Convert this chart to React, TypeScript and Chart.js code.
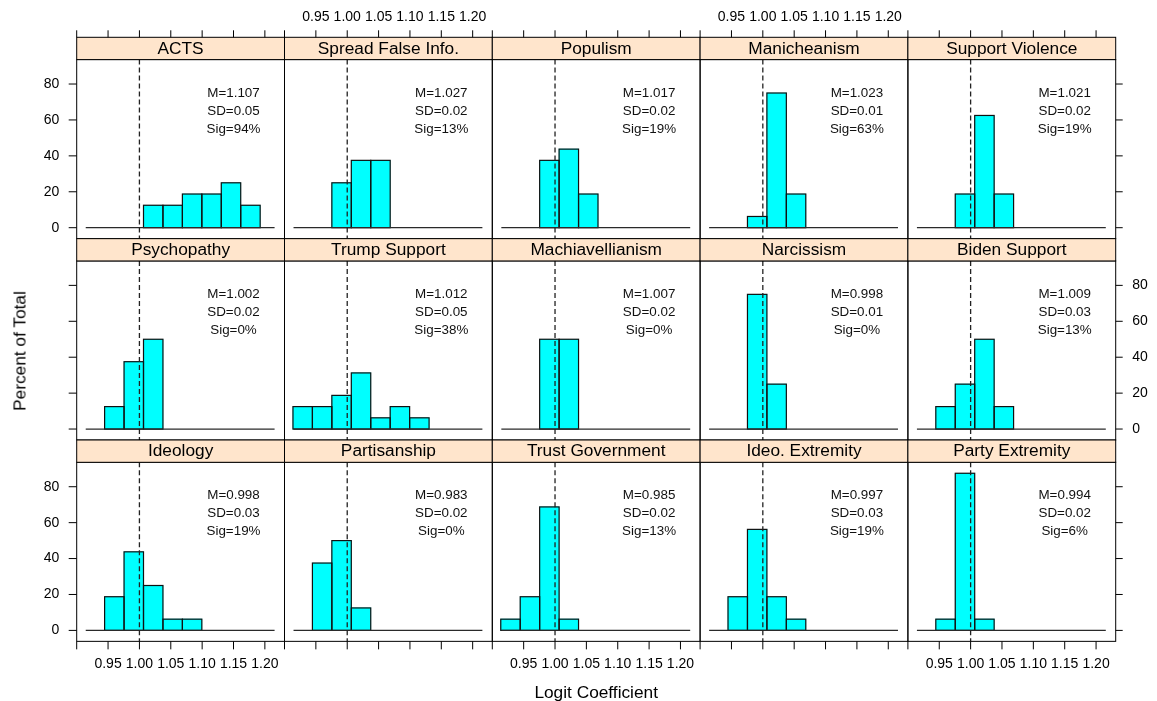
import React, { useEffect, useRef } from "react";
import { Chart, registerables } from "chart.js";

Chart.register(...registerables);

// ---- data -------------------------------------------------------------
const PANEL_TITLES = [
  "ACTS", "Spread False Info.", "Populism", "Manicheanism", "Support Violence",
  "Psychopathy", "Trump Support", "Machiavellianism", "Narcissism", "Biden Support",
  "Ideology", "Partisanship", "Trust Government", "Ideo. Extremity", "Party Extremity",
];

// histogram bin midpoints (logit coefficient)
const BIN_MIDS = [0.929, 0.960, 0.991, 1.022, 1.053, 1.084, 1.115, 1.146, 1.177, 1.208];

// percent of total per bin
const PCT_ACTS = [0, 0, 0, 12.5, 12.5, 18.75, 18.75, 25, 12.5, 0];
const PCT_SPREAD = [0, 0, 25, 37.5, 37.5, 0, 0, 0, 0, 0];
const PCT_POPULISM = [0, 0, 37.5, 43.75, 18.75, 0, 0, 0, 0, 0];
const PCT_MANICHEANISM = [0, 0, 6.25, 75, 18.75, 0, 0, 0, 0, 0];
const PCT_VIOLENCE = [0, 0, 18.75, 62.5, 18.75, 0, 0, 0, 0, 0];
const PCT_PSYCHOPATHY = [0, 12.5, 37.5, 50, 0, 0, 0, 0, 0, 0];
const PCT_TRUMP = [12.5, 12.5, 18.75, 31.25, 6.25, 12.5, 6.25, 0, 0, 0];
const PCT_MACHIAVELLIANISM = [0, 0, 50, 50, 0, 0, 0, 0, 0, 0];
const PCT_NARCISSISM = [0, 0, 75, 25, 0, 0, 0, 0, 0, 0];
const PCT_BIDEN = [0, 12.5, 25, 50, 12.5, 0, 0, 0, 0, 0];
const PCT_IDEOLOGY = [0, 18.75, 43.75, 25, 6.25, 6.25, 0, 0, 0, 0];
const PCT_PARTISANSHIP = [0, 37.5, 50, 12.5, 0, 0, 0, 0, 0, 0];
const PCT_TRUST = [6.25, 18.75, 68.75, 6.25, 0, 0, 0, 0, 0, 0];
const PCT_IDEO_EXT = [0, 18.75, 56.25, 18.75, 6.25, 0, 0, 0, 0, 0];
const PCT_PARTY_EXT = [0, 6.25, 87.5, 6.25, 0, 0, 0, 0, 0, 0];

const PANEL_PCTS = [
  PCT_ACTS, PCT_SPREAD, PCT_POPULISM, PCT_MANICHEANISM, PCT_VIOLENCE,
  PCT_PSYCHOPATHY, PCT_TRUMP, PCT_MACHIAVELLIANISM, PCT_NARCISSISM, PCT_BIDEN,
  PCT_IDEOLOGY, PCT_PARTISANSHIP, PCT_TRUST, PCT_IDEO_EXT, PCT_PARTY_EXT,
];

const MEANS = ["1.107", "1.027", "1.017", "1.023", "1.021", "1.002", "1.012", "1.007", "0.998", "1.009", "0.998", "0.983", "0.985", "0.997", "0.994"];
const SDS = ["0.05", "0.02", "0.02", "0.01", "0.02", "0.02", "0.05", "0.02", "0.01", "0.03", "0.03", "0.02", "0.02", "0.03", "0.02"];
const SIGS = ["94%", "13%", "19%", "63%", "19%", "0%", "38%", "0%", "0%", "13%", "19%", "0%", "13%", "19%", "6%"];

const X_TICKS = [0.9, 0.95, 1.0, 1.05, 1.1, 1.15, 1.2];
const X_TICK_LABELS = ["", "0.95", "1.00", "1.05", "1.10", "1.15", "1.20"];
const Y_TICKS = [0, 20, 40, 60, 80];
const Y_TICK_LABELS = ["0", "20", "40", "60", "80"];
const X_RANGE = [0.9, 1.2313];
const Y_RANGE = [-6.1, 93.6];
const REF_X = 1.0;
const BASELINE_X = [0.9144, 1.2155];
const STAT_X = 1.15;
const STAT_Y = [75, 65, 55];

// ---- layout ----------------------------------------------------------
const NCOL = 5;
const GRID_LEFT = 76.7;
const PANEL_W = 207.8;
const GRID_TOP = 37.3;
const ROW_H = 201.35;
const STRIP_H = 22.3;
const MARGIN = 60;

const FONT = '"Liberation Sans", Arial, Helvetica, sans-serif';

function geometry(r: number, c: number) {
  const stripTop = GRID_TOP + r * ROW_H;
  const panelLeft = GRID_LEFT + c * PANEL_W;
  const left = Math.floor(panelLeft - MARGIN);
  const top = Math.floor(stripTop - MARGIN);
  const w = Math.ceil(panelLeft + PANEL_W + MARGIN) - left;
  const h = Math.ceil(stripTop + ROW_H + MARGIN) - top;
  const padLeft = panelLeft - left;
  const padTop = stripTop + STRIP_H - top;
  const padRight = w - padLeft - PANEL_W;
  const padBottom = h - padTop - (ROW_H - STRIP_H);
  return { left, top, w, h, padLeft, padTop, padRight, padBottom };
}

// bar outlines, strip, border, reference line, stats and outer axes of one panel
const latticePanel = {
  id: "latticePanel",
  afterDatasetsDraw(chart: any, _args: any, opts: any) {
    const { ctx, chartArea: a } = chart;
    const x = chart.scales.x;
    const y = chart.scales.y;
    ctx.save();

    // outline each non-empty bar once, so shared edges stay single
    const meta = chart.getDatasetMeta(0);
    const values = chart.data.datasets[0].data;
    ctx.strokeStyle = "#111";
    ctx.lineWidth = 1.2;
    meta.data.forEach((bar: any, k: number) => {
      if (!values[k] || values[k].y <= 0) return;
      const { x: cx, y: top, base, width } = bar.getProps(["x", "y", "base", "width"], true);
      ctx.strokeRect(cx - width / 2, top, width, base - top);
    });

    // zero line under the histogram
    const y0 = y.getPixelForValue(0);
    ctx.strokeStyle = "#2a2a2a";
    ctx.lineWidth = 1.3;
    ctx.beginPath();
    ctx.moveTo(x.getPixelForValue(BASELINE_X[0]), y0);
    ctx.lineTo(x.getPixelForValue(BASELINE_X[1]), y0);
    ctx.stroke();

    // dashed reference at 1.0
    const rx = x.getPixelForValue(REF_X);
    ctx.setLineDash([5, 3]);
    ctx.lineWidth = 1.3;
    ctx.strokeStyle = "#222";
    ctx.beginPath();
    ctx.moveTo(rx, a.top);
    ctx.lineTo(rx, a.bottom);
    ctx.stroke();
    ctx.setLineDash([]);

    // summary text
    ctx.fillStyle = "#111";
    ctx.font = `13.4px ${FONT}`;
    ctx.textAlign = "center";
    ctx.textBaseline = "middle";
    const sx = x.getPixelForValue(STAT_X);
    opts.stats.forEach((s: string, k: number) => {
      ctx.fillText(s, sx, y.getPixelForValue(STAT_Y[k]));
    });

    // panel border
    ctx.strokeStyle = "#000";
    ctx.lineWidth = 1;
    ctx.strokeRect(a.left, a.top, a.right - a.left, a.bottom - a.top);

    // strip
    const stripTop = a.top - STRIP_H;
    ctx.fillStyle = "#FFE5CC";
    ctx.fillRect(a.left, stripTop, a.right - a.left, STRIP_H);
    ctx.strokeRect(a.left, stripTop, a.right - a.left, STRIP_H);
    ctx.fillStyle = "#000";
    ctx.font = `17.3px ${FONT}`;
    ctx.fillText(opts.title, (a.left + a.right) / 2, stripTop + STRIP_H / 2 + 0.5);

    // axes
    ctx.font = `14px ${FONT}`;
    ctx.lineWidth = 1;
    ctx.strokeStyle = "#000";
    ctx.fillStyle = "#000";
    if (opts.top) {
      X_TICKS.forEach((v, k) => {
        const px = x.getPixelForValue(v);
        ctx.beginPath();
        ctx.moveTo(px, stripTop - 7);
        ctx.lineTo(px, stripTop);
        ctx.stroke();
        if (opts.topLabels) ctx.fillText(X_TICK_LABELS[k], px, stripTop - 20.5);
      });
    }
    if (opts.bottom) {
      X_TICKS.forEach((v, k) => {
        const px = x.getPixelForValue(v);
        ctx.beginPath();
        ctx.moveTo(px, a.bottom);
        ctx.lineTo(px, a.bottom + 8);
        ctx.stroke();
        if (opts.bottomLabels) ctx.fillText(X_TICK_LABELS[k], px, a.bottom + 22.3);
      });
    }
    if (opts.left) {
      ctx.textAlign = "right";
      Y_TICKS.forEach((v, k) => {
        const py = y.getPixelForValue(v);
        ctx.beginPath();
        ctx.moveTo(a.left - 8, py);
        ctx.lineTo(a.left, py);
        ctx.stroke();
        if (opts.leftLabels) ctx.fillText(Y_TICK_LABELS[k], a.left - 17.4, py);
      });
    }
    if (opts.right) {
      ctx.textAlign = "left";
      Y_TICKS.forEach((v, k) => {
        const py = y.getPixelForValue(v);
        ctx.beginPath();
        ctx.moveTo(a.right, py);
        ctx.lineTo(a.right + 7, py);
        ctx.stroke();
        if (opts.rightLabels) ctx.fillText(Y_TICK_LABELS[k], a.right + 16.6, py);
      });
    }
    ctx.restore();
  },
};

function Panel({ index }: { index: number }) {
  const ref = useRef<HTMLCanvasElement | null>(null);
  const r = Math.floor(index / NCOL);
  const c = index % NCOL;
  const g = geometry(r, c);

  useEffect(() => {
    const pcts = PANEL_PCTS[index];
    const chart = new Chart(ref.current as HTMLCanvasElement, {
      type: "bar",
      data: {
        datasets: [
          {
            data: BIN_MIDS.map((m, k) => ({ x: m, y: pcts[k] })),
            backgroundColor: (ctx: any) => (ctx.raw && ctx.raw.y > 0 ? "#00FFFF" : "rgba(0,0,0,0)"),
            borderWidth: 0,
            barPercentage: 1,
            categoryPercentage: 1,
          } as any,
        ],
      },
      options: {
        responsive: false,
        animation: false,
        devicePixelRatio: 1,
        events: [],
        layout: {
          padding: { left: g.padLeft, right: g.padRight, top: g.padTop, bottom: g.padBottom },
        },
        plugins: {
          legend: { display: false },
          tooltip: { enabled: false },
          latticePanel: {
            title: PANEL_TITLES[index],
            stats: [`M=${MEANS[index]}`, `SD=${SDS[index]}`, `Sig=${SIGS[index]}`],
            top: r === 0,
            topLabels: r === 0 && c % 2 === 1,
            bottom: r === 2,
            bottomLabels: r === 2 && c % 2 === 0,
            left: c === 0,
            leftLabels: c === 0 && r !== 1,
            right: c === NCOL - 1,
            rightLabels: c === NCOL - 1 && r === 1,
          },
        } as any,
        scales: {
          x: {
            type: "linear",
            display: false,
            offset: false,
            min: X_RANGE[0],
            max: X_RANGE[1],
            afterBuildTicks: (s: any) => {
              s.ticks = X_TICKS.map((v) => ({ value: v }));
            },
          },
          y: {
            type: "linear",
            display: false,
            beginAtZero: false,
            min: Y_RANGE[0],
            max: Y_RANGE[1],
          },
        },
      } as any,
      plugins: [latticePanel as any],
    });
    return () => chart.destroy();
  }, [index]);

  return (
    <canvas
      ref={ref}
      width={g.w}
      height={g.h}
      style={{ position: "absolute", left: g.left, top: g.top, width: g.w, height: g.h }}
    />
  );
}

export default function App() {
  return (
    <div
      style={{
        position: "absolute",
        left: 0,
        top: 0,
        width: 1157,
        height: 701,
        overflow: "hidden",
        background: "#fff",
        fontFamily: FONT,
      }}
    >
      {PANEL_TITLES.map((_, i) => (
        <Panel key={i} index={i} />
      ))}
      <div
        style={{
          position: "absolute",
          left: 596.2,
          top: 691.7,
          transform: "translate(-50%, -50%)",
          fontSize: 17.3,
          whiteSpace: "nowrap",
          color: "#000",
        }}
      >
        Logit Coefficient
      </div>
      <div
        style={{
          position: "absolute",
          left: 20,
          top: 351,
          transform: "translate(-50%, -50%) rotate(-90deg)",
          fontSize: 17.3,
          whiteSpace: "nowrap",
          color: "#000",
        }}
      >
        Percent of Total
      </div>
    </div>
  );
}
